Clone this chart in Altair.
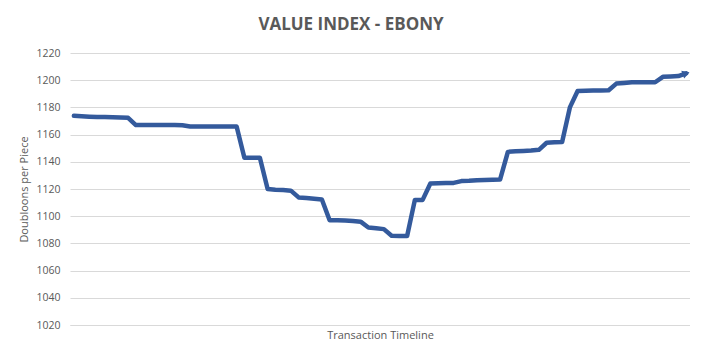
import altair as alt
import pandas as pd

title_text = "VALUE INDEX - EBONY"
y_title = "Doubloons per Piece"
x_title = "Transaction Timeline"

values = [
    1173.8, 1173.5, 1173.2, 1173.0, 1173.0, 1172.8, 1172.5, 1172.3, 1167.0, 1167.0,
    1167.0, 1167.0, 1167.0, 1167.0, 1166.8, 1166.0, 1166.0, 1166.0, 1166.0, 1166.0,
    1166.0, 1166.0, 1143.0, 1143.0, 1143.0, 1120.0, 1119.5, 1119.2, 1118.8, 1113.8,
    1113.3, 1112.8, 1112.3, 1097.0, 1097.0, 1096.8, 1096.5, 1096.0, 1091.7, 1091.2,
    1090.5, 1085.6, 1085.5, 1085.5, 1112.0, 1112.0, 1124.0, 1124.3, 1124.5, 1124.5,
    1125.8, 1126.0, 1126.5, 1126.6, 1126.8, 1127.0, 1147.3, 1147.8, 1148.0, 1148.3,
    1148.8, 1154.0, 1154.3, 1154.6, 1180.0, 1192.0, 1192.3, 1192.5, 1192.5, 1192.6,
    1197.5, 1198.0, 1198.5, 1198.5, 1198.5, 1198.5, 1202.5, 1202.7, 1203.0, 1205.0,
]
transactions = list(range(len(values)))
y_ticks = [1020, 1040, 1060, 1080, 1100, 1120, 1140, 1160, 1180, 1200, 1220]

df = pd.DataFrame({"t": transactions, "v": values})
n = len(values)

TEXT = "#595959"
GRID = "#d9d9d9"
BLUE = "#345a9c"
FONT = "Open Sans"

x_enc = alt.X("t:Q", scale=alt.Scale(domain=[-0.5, n - 0.5], nice=False, zero=False),
              axis=alt.Axis(title=x_title, labels=False, ticks=False, grid=False,
                            domainColor=GRID, domainWidth=1, titleColor=TEXT,
                            titleFont=FONT, titleFontSize=11, titleFontWeight="normal",
                            titlePadding=4))
y_enc = alt.Y("v:Q", scale=alt.Scale(domain=[1020, 1220], nice=False, zero=False),
              axis=alt.Axis(title=y_title, values=y_ticks, tickCount=len(y_ticks),
                            format="d", labelOverlap=False,
                            ticks=False, domain=False,
                            gridColor=GRID, gridWidth=1, labelColor=TEXT, labelFont=FONT,
                            labelFontSize=10.5, labelPadding=10, titleColor=TEXT,
                            titleFont=FONT, titleFontSize=11, titleFontWeight="normal",
                            titlePadding=6))

line = alt.Chart(df).mark_line(color=BLUE, strokeWidth=4.5, strokeCap="round",
                               strokeJoin="round").encode(x=x_enc, y=y_enc)

arrow = alt.Chart(df.tail(1)).mark_point(shape="triangle-right", filled=True, color=BLUE,
                                          size=70, angle=340, opacity=1).encode(
    x=alt.X("t:Q"), y=alt.Y("v:Q"))

chart = (line + arrow).properties(
    width=620,
    height=272,
    title=alt.TitleParams(title_text, font=FONT, fontSize=17, fontWeight="bold",
                          color=TEXT, anchor="middle", dx=-29, offset=14),
    autosize=alt.AutoSizeParams(type="none"),
    padding={"left": 62, "top": 45, "right": 0, "bottom": 20},
    background="white",
).configure_view(stroke=None)

chart.save("out.html", embed_options={"renderer": "svg", "actions": False})
